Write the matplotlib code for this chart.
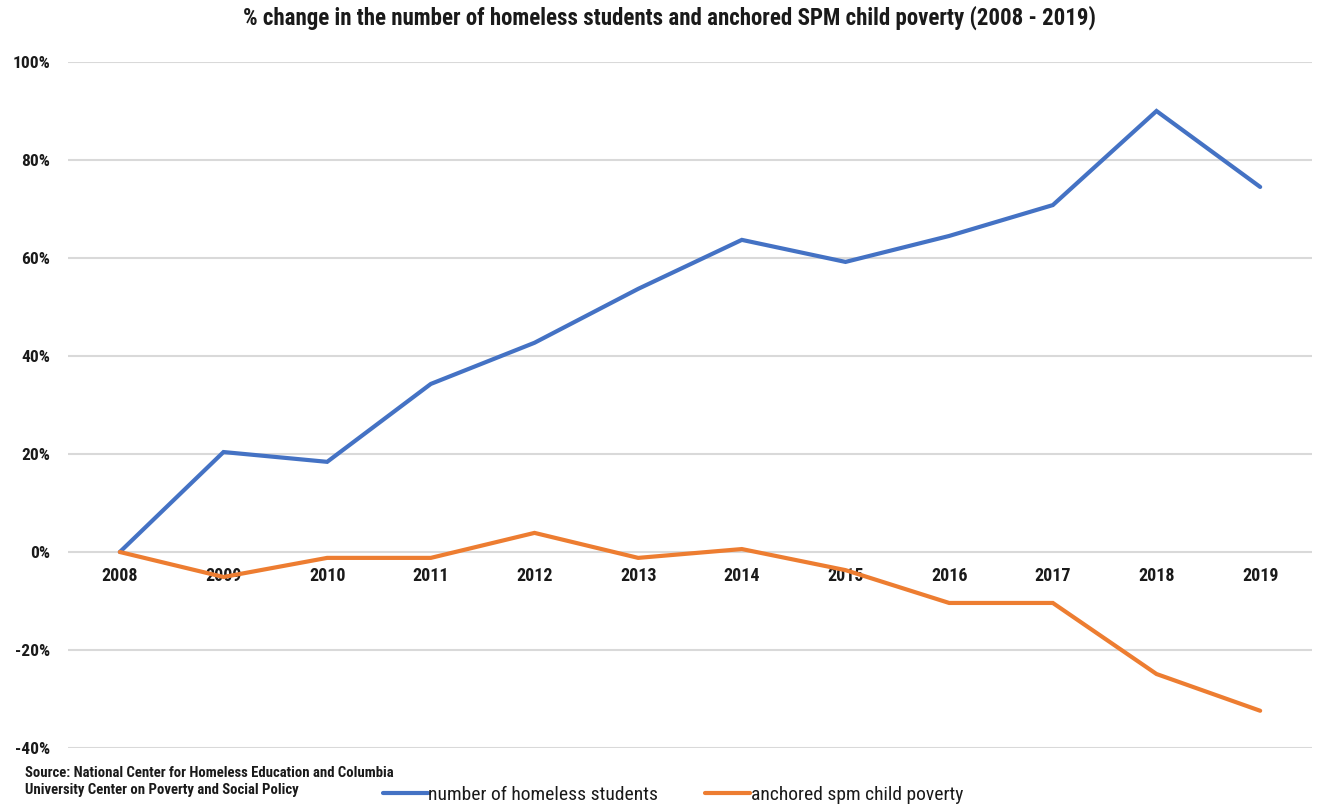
import matplotlib
matplotlib.use("Agg")
import matplotlib.pyplot as plt
from matplotlib import font_manager
from matplotlib.ticker import FuncFormatter

# Prefer a narrow sans face; fall back to DejaVu Sans otherwise.
_installed = {f.name for f in font_manager.fontManager.ttflist}
_narrow = [n for n in ['Roboto Condensed', 'Liberation Sans Narrow', 'Open Sans Condensed',
                       'DejaVu Sans Condensed'] if n in _installed]
plt.rcParams['font.family'] = _narrow + ['DejaVu Sans']

years = ['2008', '2009', '2010', '2011', '2012', '2013', '2014', '2015',
         '2016', '2017', '2018', '2019']
homeless_students = [0.0, 20.4, 18.4, 34.3, 42.7, 53.7, 63.7, 59.2, 64.5, 70.8, 90.0, 74.5]
spm_child_poverty = [0.0, -5.1, -1.2, -1.2, 3.9, -1.2, 0.6, -3.7, -10.4, -10.4, -24.9, -32.4]
y_ticks = [-40, -20, 0, 20, 40, 60, 80, 100]

BLUE = '#4472C4'
ORANGE = '#ED7D31'
INK = '#1a1a1a'

fig = plt.figure(figsize=(13.17, 8.05), dpi=100)
ax = fig.add_axes([68 / 1317, 1 - 748 / 805, (1312 - 68) / 1317, (748 - 62) / 805])

x = list(range(len(years)))
ax.plot(x, homeless_students, color=BLUE, lw=3, solid_capstyle='round',
        solid_joinstyle='miter', label='number of homeless students', zorder=3)
ax.plot(x, spm_child_poverty, color=ORANGE, lw=3, solid_capstyle='round',
        solid_joinstyle='miter', label='anchored spm child poverty', zorder=3)

ax.set_xlim(-0.5, len(years) - 0.5)
ax.set_ylim(-40, 100)
ax.set_yticks(y_ticks)
ax.yaxis.set_major_formatter(FuncFormatter(lambda v, p: f'{v:.0f}%'))
ax.grid(axis='y', color='#d9d9d9', lw=1.5)
ax.set_axisbelow(True)

ax.set_xticks(x)
ax.set_xticklabels(years)
ax.spines['bottom'].set_position(('data', 0))
for s in ax.spines.values():
    s.set_visible(False)
ax.tick_params(axis='x', length=0, labelsize=13, pad=11)
ax.tick_params(axis='y', length=0, labelsize=12.5, pad=13)
for lbl in ax.get_xticklabels() + ax.get_yticklabels():
    lbl.set_fontweight('semibold')
    lbl.set_color(INK)

fig.text(669 / 1317, 1 - 18 / 805, '% change in the number of homeless students and anchored SPM child poverty (2008 - 2019)',
         ha='center', va='center', fontsize=16.5, fontweight='semibold', color=INK)

fig.text(25 / 1317, 1 - 773 / 805, 'Source: National Center for Homeless Education and Columbia',
         ha='left', va='center', fontsize=10.6, fontweight='semibold', color=INK)
fig.text(25 / 1317, 1 - 790 / 805, 'University Center on Poverty and Social Policy',
         ha='left', va='center', fontsize=10.6, fontweight='semibold', color=INK)

leg = fig.legend(loc='center', bbox_to_anchor=(673 / 1317, 1 - 795 / 805), ncol=2,
                 frameon=False, fontsize=14, handlelength=2.3, handletextpad=0.05,
                 columnspacing=2.4)
for t in leg.get_texts():
    t.set_color(INK)

fig.savefig('out.png', dpi=100)
